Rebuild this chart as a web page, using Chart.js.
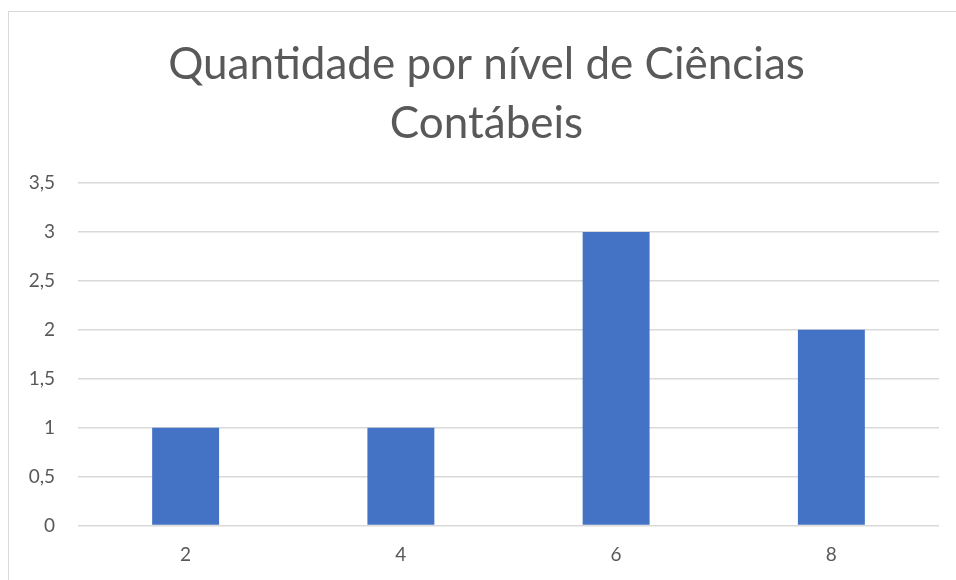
<!DOCTYPE html>
<html>
<head>
<meta charset="utf-8">
<script src="https://cdn.jsdelivr.net/npm/chart.js@4.4.1/dist/chart.umd.min.js"></script>
<style>
html,body{margin:0;padding:0;background:#fff;overflow:hidden;}
#wrap{position:absolute;left:0;top:0;width:956px;height:580px;}
</style>
</head>
<body>
<div id="wrap"><canvas id="c" width="956" height="580"></canvas></div>
<script>
const chartTitle = ['Quantidade por nível de Ciências', 'Contábeis'];
const categories = ['2', '4', '6', '8'];
const quantities = [1, 1, 3, 2];
const yMin = 0, yMax = 3.5, yStep = 0.5;

const frame = {
  id: 'frame',
  afterLayout(chart) {
    if (chart.titleBlock) { chart.titleBlock.left = 34; }
  },
  beforeDraw(chart) {
    const ctx = chart.ctx;
    ctx.save();
    ctx.fillStyle = '#ffffff';
    ctx.fillRect(0, 0, chart.width, chart.height);
    ctx.strokeStyle = '#d9d9d9';
    ctx.lineWidth = 1;
    ctx.strokeRect(8.5, 11.5, 1000, 700);
    ctx.restore();
  }
};

const FONT = 'Lato, "Open Sans", sans-serif';

new Chart(document.getElementById('c'), {
  type: 'bar',
  data: {
    labels: categories,
    datasets: [{
      data: quantities,
      backgroundColor: '#4472C4',
      borderWidth: 0,
      barPercentage: 0.311,
      categoryPercentage: 1
    }]
  },
  plugins: [frame],
  options: {
    responsive: false,
    animation: false,
    layout: { padding: { left: 10, right: 17, top: 36, bottom: 0 } },
    plugins: {
      legend: { display: false },
      tooltip: { enabled: false },
      title: {
        display: true,
        text: chartTitle,
        color: '#595959',
        font: { family: FONT, size: 44, weight: 'normal', lineHeight: 1.33 },
        padding: { top: 0, bottom: 30 }
      }
    },
    scales: {
      x: {
        grid: { display: false, drawTicks: false },
        border: { display: false },
        ticks: { color: '#595959', font: { family: FONT, size: 19 }, padding: 18 },
        afterFit(s) { s.height = 54.5; }
      },
      y: {
        min: yMin, max: yMax,
        grid: { color: '#d9d9d9', lineWidth: 1.5, drawTicks: false },
        border: { display: false },
        ticks: {
          stepSize: yStep,
          color: '#595959',
          font: { family: FONT, size: 19 },
          padding: 23,
          callback: v => String(v).replace('.', ',')
        },
        afterFit(s) { s.width = 68; }
      }
    }
  }
});
</script>
</body>
</html>
